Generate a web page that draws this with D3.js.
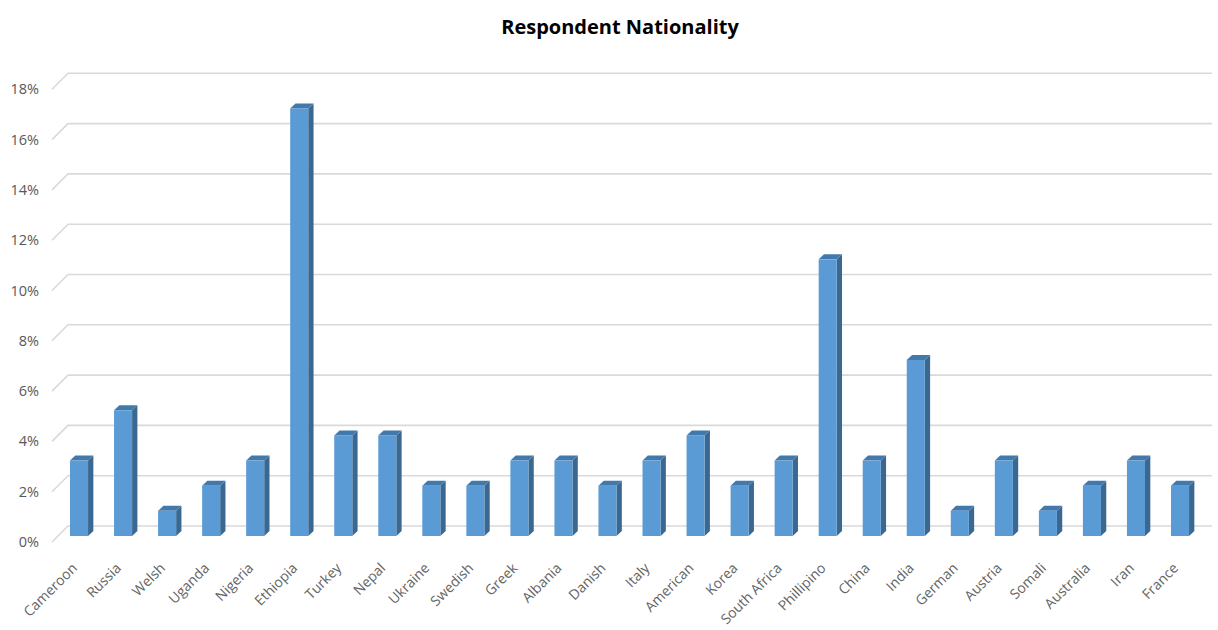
<!DOCTYPE html>
<html>
<head>
<meta charset="utf-8">
<script src="https://cdn.jsdelivr.net/npm/d3@7"></script>
<style>
  html, body { margin: 0; padding: 0; background: #ffffff; }
  svg { display: block; }
</style>
</head>
<body>
<svg id="chart" width="1218" height="630"></svg>
<script>
// Share of respondents by nationality (percent)
const categories = ["Cameroon", "Russia", "Welsh", "Uganda", "Nigeria", "Ethiopia", "Turkey", "Nepal",
  "Ukraine", "Swedish", "Greek", "Albania", "Danish", "Italy", "American", "Korea", "South Africa",
  "Phillipino", "China", "India", "German", "Austria", "Somali", "Australia", "Iran", "France"];
const values = [3, 5, 1, 2, 3, 17, 4, 4, 2, 2, 3, 3, 2, 3, 4, 2, 3, 11, 3, 7, 1, 3, 1, 2, 3, 2];
const yTicks = [0, 2, 4, 6, 8, 10, 12, 14, 16, 18];
const title = "Respondent Nationality";

const svg = d3.select("#chart");

const x = d3.scaleBand()
  .domain(categories)
  .range([57, 57 + 44.04 * categories.length])
  .paddingInner(0.59)
  .paddingOuter(0.295);

const y = d3.scaleLinear().domain([0, 18]).range([536, 83.3]);

// floor/wall depth offsets for the 3D look
const wallBack = -10, wallFront = 6, wallLeftFront = 52, wallLeftBack = 68, wallRight = 1212;
const depthX = 5.3, depthY = -5;

// gridlines on the back wall with short diagonals on the side wall
const grid = svg.append("g");
yTicks.forEach(t => {
  const yy = y(t);
  grid.append("path")
    .attr("d", `M${wallLeftFront},${yy + wallFront}L${wallLeftBack},${yy + wallBack}L${wallRight},${yy + wallBack}`)
    .attr("fill", "none")
    .attr("stroke", "#d9d9d9")
    .attr("stroke-width", 1.6);
});

// y-axis labels
svg.append("g").selectAll("text")
  .data(yTicks)
  .join("text")
  .attr("x", 39)
  .attr("y", d => y(d) + wallFront)
  .attr("dy", "0.35em")
  .attr("text-anchor", "end")
  .attr("font-family", "'Open Sans', sans-serif")
  .attr("font-size", 14.5)
  .attr("fill", "#595959")
  .text(d => d + "%");

// 3D bars: front face, right side face, top face
const bars = svg.append("g").selectAll("g")
  .data(categories.map((c, i) => ({ c, v: values[i] })))
  .join("g");

const bw = x.bandwidth();
bars.append("path")
  .attr("d", d => {
    const x0 = x(d.c) + bw, y0 = y(d.v), y1 = y(0);
    return `M${x0},${y0}L${x0 + depthX},${y0 + depthY}L${x0 + depthX},${y1 + depthY}L${x0},${y1}Z`;
  })
  .attr("fill", "#3a6890");
bars.append("path")
  .attr("d", d => {
    const x0 = x(d.c), y0 = y(d.v);
    return `M${x0},${y0}L${x0 + depthX},${y0 + depthY}L${x0 + bw + depthX},${y0 + depthY}L${x0 + bw},${y0}Z`;
  })
  .attr("fill", "#4279ad");
bars.append("rect")
  .attr("x", d => x(d.c))
  .attr("y", d => y(d.v))
  .attr("width", bw)
  .attr("height", d => y(0) - y(d.v))
  .attr("fill", "#5b9bd5");

// category labels, rotated
svg.append("g").selectAll("text")
  .data(categories)
  .join("text")
  .attr("transform", d => `translate(${x(d) + bw / 2 - 1},${569}) rotate(-45)`)
  .attr("text-anchor", "end")
  .attr("font-family", "'Open Sans', sans-serif")
  .attr("font-size", 14)
  .attr("fill", "#646464")
  .text(d => d);

// title
svg.append("text")
  .attr("x", 620)
  .attr("y", 34)
  .attr("text-anchor", "middle")
  .attr("font-family", "'Open Sans', sans-serif")
  .attr("font-weight", "bold")
  .attr("font-size", 20)
  .attr("fill", "#000000")
  .text(title);
</script>
</body>
</html>
